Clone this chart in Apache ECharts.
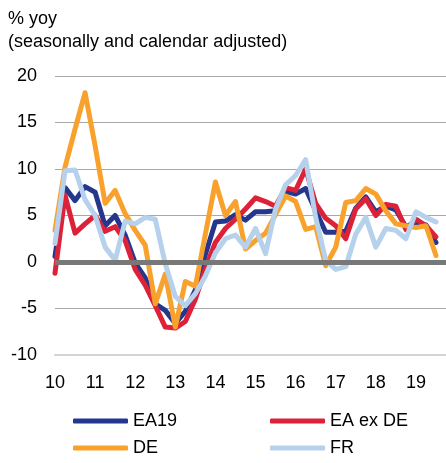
<!DOCTYPE html>
<html>
<head>
<meta charset="utf-8">
<script src="https://cdn.jsdelivr.net/npm/echarts@6/dist/echarts.min.js"></script>
<style>
  html, body { margin: 0; padding: 0; background: #fff; }
  #chart { width: 446px; height: 463px; }
</style>
</head>
<body>
<div id="chart"></div>
<script>
// quarters 2010Q1 .. 2019Q4 (last one empty)
var quarters = [];
for (var y = 2010; y <= 2019; y++) {
  for (var q = 1; q <= 4; q++) quarters.push(y + 'Q' + q);
}
var yTicks = [-10, -5, 0, 5, 10, 15, 20];

var ea19 = [0.6, 8.0, 6.6, 8.1, 7.5, 3.9, 5.0, 2.9, -0.1, -1.7, -4.5, -5.2, -6.6, -5.3, -3.0, 0.8,
  4.3, 4.4, 5.1, 4.5, 5.4, 5.4, 5.5, 7.6, 7.3, 7.9, 5.5, 3.2, 3.2, 3.3, 5.8, 7.0,
  5.4, 6.0, 5.6, 3.8, 4.3, 4.0, 2.1, null];
var eaExDe = [-1.2, 7.2, 3.1, 4.1, 5.0, 3.3, 3.8, 2.3, -0.8, -2.5, -4.7, -7.0, -7.1, -6.4, -4.0, -0.7,
  2.1, 3.6, 4.6, 5.7, 6.9, 6.5, 6.0, 8.0, 7.7, 10.0, 6.3, 4.7, 3.9, 2.5, 5.7, 6.8,
  5.0, 6.2, 6.0, 3.5, 4.6, 3.9, 2.7, null];
var de = [3.4, 10.2, 14.3, 18.2, 12.5, 6.3, 7.7, 5.2, 3.4, 1.8, -4.5, -1.3, -7.0, -2.1, -2.6, 3.0,
  8.6, 5.0, 6.5, 1.4, 2.3, 3.1, 5.1, 7.1, 6.5, 3.5, 3.8, -0.4, 1.6, 6.4, 6.6, 7.9,
  7.3, 5.5, 4.1, 3.9, 3.7, 3.9, 0.7, null];
var fr = [2.0, 9.8, 9.9, 6.7, 5.0, 1.6, 0.2, 4.4, 4.1, 4.8, 4.6, -0.2, -3.7, -4.7, -3.4, -1.5,
  1.0, 2.5, 2.9, 1.6, 3.6, 0.9, 5.7, 8.3, 9.3, 11.0, 4.8, 0.2, -0.8, -0.5, 3.0, 4.8,
  1.6, 3.6, 3.4, 2.5, 5.4, 4.8, 4.3, null];

var font = '"Liberation Sans", Arial, sans-serif';
var fontSize = 18;

function lineSeries(name, data, color) {
  return {
    name: name,
    type: 'line',
    data: data,
    symbol: 'none',
    z: 3,
    lineStyle: { color: color, width: 5, join: 'round', cap: 'round' },
    itemStyle: { color: color }
  };
}

// one legend per entry, 2x2 layout
function legendItem(name, left, top) {
  return {
    data: [name],
    left: left,
    top: top,
    padding: 0,
    itemWidth: 55,
    itemHeight: 5,
    icon: 'roundRect',
    textStyle: { fontFamily: font, fontSize: fontSize, color: '#000' }
  };
}

var chart = echarts.init(document.getElementById('chart'), null, { renderer: 'canvas' });

var option = {
  animation: false,
  title: {
    text: '% yoy\n(seasonally and calendar adjusted)',
    left: 3,
    top: 3,
    textStyle: { fontFamily: font, fontSize: fontSize, fontWeight: 'normal', color: '#000', lineHeight: 23 }
  },
  grid: { left: 55, right: 0, top: 76, bottom: 108 },
  legend: [
    legendItem('EA19', 73, 412),
    legendItem('EA ex DE', 270, 412),
    legendItem('DE', 73, 439),
    legendItem('FR', 270, 439)
  ],
  xAxis: {
    type: 'category',
    data: quarters,
    boundaryGap: false,
    axisLine: { onZero: false, lineStyle: { color: '#d4d4d4', width: 2 } },
    axisTick: { show: false },
    splitLine: { show: false },
    axisLabel: {
      interval: 3,
      margin: 19,
      fontFamily: font,
      fontSize: fontSize,
      color: '#000',
      formatter: function (v) { return v.slice(2, 4); }
    }
  },
  yAxis: {
    type: 'value',
    min: yTicks[0],
    max: yTicks[yTicks.length - 1],
    interval: 5,
    axisLine: { show: false },
    axisTick: { show: false },
    axisLabel: { margin: 18, fontFamily: font, fontSize: fontSize, color: '#000' },
    splitLine: { lineStyle: { color: '#a8a8a8', width: 1 } }
  },
  series: [
    {
      name: 'zero',
      type: 'line',
      data: [],
      z: 1,
      markLine: {
        silent: true,
        symbol: 'none',
        label: { show: false },
        lineStyle: { color: '#787878', width: 5, type: 'solid' },
        data: [{ yAxis: 0 }]
      }
    },
    lineSeries('EA19', ea19, '#24378d'),
    lineSeries('EA ex DE', eaExDe, '#dc2139'),
    lineSeries('DE', de, '#f9a12d'),
    lineSeries('FR', fr, '#b5d1ec')
  ]
};
chart.setOption(option);
</script>
</body>
</html>
